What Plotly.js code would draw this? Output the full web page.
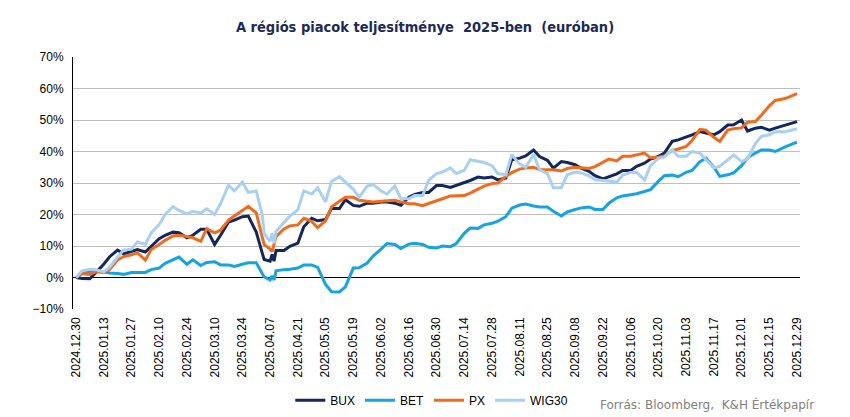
<!DOCTYPE html>
<html>
<head>
<meta charset="utf-8">
<script src="https://cdn.plot.ly/plotly-3.0.1.min.js"></script>
<style>html,body{margin:0;padding:0;background:#fff;}#chart{width:850px;height:417px;}</style>
</head>
<body>
<div id="chart"></div>
<script>
const dates = [
 "2024-12-30","2025-01-02","2025-01-06","2025-01-09","2025-01-13","2025-01-16","2025-01-20","2025-01-23","2025-01-27","2025-01-30",
 "2025-02-03","2025-02-06","2025-02-10","2025-02-13","2025-02-17","2025-02-20","2025-02-24","2025-02-27","2025-03-03","2025-03-06",
 "2025-03-10","2025-03-13","2025-03-17","2025-03-20","2025-03-24","2025-03-27","2025-03-31","2025-04-03","2025-04-04","2025-04-07",
 "2025-04-08","2025-04-09","2025-04-10","2025-04-14","2025-04-17","2025-04-21","2025-04-24","2025-04-28","2025-05-01","2025-05-05",
 "2025-05-08","2025-05-12","2025-05-15","2025-05-19","2025-05-22","2025-05-26","2025-05-29","2025-06-02","2025-06-05","2025-06-09",
 "2025-06-12","2025-06-16","2025-06-19","2025-06-23","2025-06-26","2025-06-30","2025-07-03","2025-07-07","2025-07-10","2025-07-14",
 "2025-07-17","2025-07-21","2025-07-24","2025-07-28","2025-07-31","2025-08-04","2025-08-07","2025-08-11","2025-08-14","2025-08-18",
 "2025-08-21","2025-08-25","2025-08-28","2025-09-01","2025-09-04","2025-09-08","2025-09-11","2025-09-15","2025-09-18","2025-09-22",
 "2025-09-25","2025-09-29","2025-10-02","2025-10-06","2025-10-09","2025-10-13","2025-10-16","2025-10-20","2025-10-23","2025-10-27",
 "2025-10-30","2025-11-03","2025-11-06","2025-11-10","2025-11-13","2025-11-17","2025-11-20","2025-11-24","2025-11-27","2025-12-01",
 "2025-12-04","2025-12-08","2025-12-11","2025-12-15","2025-12-18","2025-12-23","2025-12-29"
];

const bux = [
 0,-0.3,-0.4,1.6,4.2,6.6,8.7,7.5,8.4,8.9,
 8.1,10.0,12.3,13.4,14.4,14.2,12.6,13.4,15.3,15.3,
 10.5,13.4,17.6,18.2,19.3,19.5,14.4,7.8,5.7,5.2,
 7.3,5.2,8.6,8.6,9.9,10.9,16.1,18.8,18.0,18.4,
 21.9,21.9,24.7,22.9,22.6,23.6,23.6,24.0,24.0,23.6,
 22.9,25.5,26.4,27.0,27.0,29.2,29.2,28.6,29.2,30.0,
 30.8,31.9,31.6,31.9,31.0,31.6,37.4,37.9,38.6,40.5,
 38.4,37.2,34.7,36.8,36.5,35.8,34.7,33.7,32.3,31.3,
 31.9,32.9,34.0,34.0,35.3,36.3,37.6,38.4,39.5,43.2,
 43.7,44.5,45.3,46.3,45.8,45.3,46.3,48.4,48.5,50.0,
 46.5,47.4,47.7,46.8,47.4,48.4,49.5
];

const bet = [
 0,1.2,1.8,2.0,1.8,1.4,1.3,1.0,1.6,1.6,
 1.6,2.5,3.0,4.5,5.5,6.5,4.2,5.6,3.8,4.8,
 5.0,4.0,4.0,3.5,4.2,4.7,4.7,1.6,0.2,-0.8,
 0.5,-0.8,2.1,2.5,2.6,3.0,4.0,4.0,3.2,-2.2,
 -4.5,-4.6,-3.0,3.0,3.1,4.6,6.8,9.0,10.8,10.5,
 9.2,10.6,10.9,10.5,9.6,9.4,10.0,9.8,10.8,14.0,
 15.7,15.6,16.7,17.2,17.9,19.3,22.0,23.0,23.3,22.7,
 22.4,22.4,21.0,19.5,20.8,21.6,22.1,22.4,21.6,21.6,
 23.6,25.3,25.9,26.3,26.6,27.3,27.9,30.5,32.3,32.5,
 32.0,33.4,34.0,36.8,37.9,35.0,32.1,32.6,33.2,35.5,
 38.0,39.5,40.5,40.5,40.0,41.5,43.0
];

const px = [
 0,1.3,1.0,1.8,1.6,2.5,5.6,6.6,7.2,7.9,
 5.5,8.9,10.5,11.8,13.2,13.4,13.0,12.6,11.5,15.5,
 14.2,15.0,18.2,19.5,21.2,22.6,20.5,12.5,10.4,9.0,
 8.2,10.5,13.0,15.4,16.4,16.7,18.8,17.8,15.8,18.0,
 22.4,24.2,25.5,25.5,24.5,24.2,24.0,24.2,24.4,24.5,
 24.0,23.4,23.4,22.8,23.5,24.5,25.0,25.9,26.0,26.0,
 26.8,28.0,29.0,29.8,30.0,32.1,33.3,34.4,34.8,35.0,
 34.2,34.2,34.2,33.8,34.6,35.0,34.8,34.6,35.2,36.5,
 37.6,37.0,38.5,38.5,39.0,39.5,38.0,38.2,38.6,40.3,
 40.8,41.6,43.5,47.0,46.8,44.5,43.2,46.8,47.2,47.5,
 49.3,49.5,51.5,54.5,56.2,56.8,58.4
];

const wig30 = [
 0,2.1,2.6,2.5,1.8,3.3,6.5,8.7,9.0,11.3,
 10.5,14.2,16.8,20.0,22.5,21.3,20.2,21.0,20.5,21.8,
 20.0,23.5,29.3,27.5,30.3,27.0,27.5,20.0,14.0,11.5,
 14.0,10.9,14.6,17.5,19.5,21.5,27.5,26.5,28.5,24.0,
 30.5,32.0,30.2,28.0,25.5,29.0,29.5,27.5,26.5,29.0,
 25.0,25.0,26.0,26.0,30.8,33.0,33.5,34.8,33.0,34.0,
 37.4,37.0,36.5,35.5,33.0,32.6,39.0,36.0,35.0,39.0,
 34.2,33.0,28.5,28.5,32.6,33.5,33.2,32.3,31.0,30.8,
 30.5,30.3,32.5,33.3,33.4,31.0,35.5,37.8,38.2,40.5,
 38.5,38.5,40.0,39.5,37.4,34.8,35.3,37.2,38.9,36.8,
 37.7,42.5,44.8,45.3,46.3,46.3,47.2
];

const seriesNames = ["BUX","BET","PX","WIG30"];
const seriesColors = ["#13275E","#16A3E6","#F26A1B","#A9D0F2"];
const seriesValues = [bux, bet, px, wig30];

const traces = seriesNames.map((n, i) => ({
  type: "scatter", mode: "lines", name: n,
  x: dates, y: seriesValues[i],
  line: {color: seriesColors[i], width: 3}
}));

const layout = {
  width: 850, height: 417,
  margin: {l: 73, r: 50, t: 57, b: 108},
  paper_bgcolor: "#ffffff", plot_bgcolor: "#ffffff",
  font: {family: "Liberation Sans, Arial, sans-serif", size: 12, color: "#000"},
  title: {
    text: "<b>A régiós piacok teljesítménye  2025-ben  (euróban)</b>",
    font: {family: "DejaVu Sans Condensed, DejaVu Sans, sans-serif", size: 14.5, color: "#1C2A55"},
    x: 0.5, xanchor: "center", y: 0.935, yanchor: "middle", yref: "container"
  },
  xaxis: {
    type: "date", automargin: false,
    range: ["2024-12-28 12:00", "2025-12-30 12:00"],
    tick0: "2024-12-30", dtick: 14 * 86400000,
    tickformat: "%Y.%m.%d", tickangle: -90, ticklabelstandoff: 5,
    showgrid: false, zeroline: false, showline: false,
    ticks: "", tickfont: {size: 12, color: "#000"}
  },
  yaxis: {
    automargin: false,
    range: [-10, 70], dtick: 10, ticksuffix: "%", ticklabelstandoff: 6,
    showgrid: true, gridcolor: "#BFBFBF", gridwidth: 1,
    zeroline: true, zerolinecolor: "#000", zerolinewidth: 1,
    showline: true, linecolor: "#000", linewidth: 1,
    ticks: "", tickfont: {size: 12, color: "#000"}
  },
  showlegend: true,
  legend: {
    orientation: "h", xref: "container", yref: "container",
    x: 0.508, xanchor: "center", y: 0.04, yanchor: "middle",
    font: {size: 12, color: "#000"}, itemwidth: 30, traceorder: "normal"
  },
  annotations: [{
    text: "Forrás: Bloomberg,  K&H Értékpapír",
    xref: "paper", yref: "paper", x: 1.022, y: -0.38,
    xanchor: "right", yanchor: "middle", showarrow: false,
    font: {family: "DejaVu Sans, sans-serif", size: 12, color: "#808080"}
  }]
};

Plotly.newPlot("chart", traces, layout, {displayModeBar: false, staticPlot: true});
</script>
</body>
</html>
